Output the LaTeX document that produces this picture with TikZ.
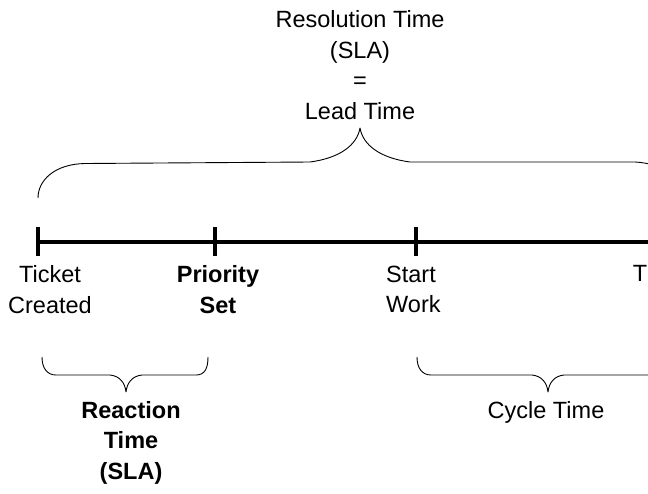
\documentclass[tikz,border=0pt]{standalone}
\usepackage{fontspec}
\setmainfont{Liberation Sans}
\begin{document}
\begin{tikzpicture}[x=1pt,y=-1pt,
  lbl/.style={inner sep=0pt, font=\fontsize{23.5}{30.5}\selectfont},
  lblb/.style={lbl, font=\fontsize{23.5}{30.5}\selectfont\bfseries},
  brace/.style={line width=0.9pt, line join=round},
  axis/.style={line width=3.8pt},
  tick/.style={line width=3.2pt}]
\useasboundingbox (0,0) rectangle (648,493);
\clip (0,0) rectangle (648,493);
\fill[white] (0,0) rectangle (648,493);

% timeline
\coordinate (t0) at (38,242);
\coordinate (tend) at (660,242);
\draw[axis] (t0) -- (tend);
\coordinate (k1a) at (38,227); \coordinate (k1b) at (38,256);
\coordinate (k2a) at (215,227); \coordinate (k2b) at (215,256);
\coordinate (k3a) at (416,227); \coordinate (k3b) at (416,256);
\draw[line width=4pt] (k1a) -- (k1b);
\draw[tick] (k2a) -- (k2b);
\draw[tick] (k3a) -- (k3b);

% top brace (lead time)
\draw[brace] (38,198) .. controls (38,180) and (55,164) .. (85,163.5)
  -- (310,162) .. controls (340,158) and (357,145) .. (360,128)
  .. controls (363,145) and (380,158) .. (410,162)
  -- (635,162) .. controls (665,163.5) and (682,180) .. (682,198);

% lower left brace (reaction time)
\draw[brace] (42,357) .. controls (42,368) and (47,375) .. (56,375)
  -- (110,375) .. controls (120,376) and (125,383) .. (126,392)
  .. controls (127,383) and (132,376) .. (142,375)
  -- (196,375) .. controls (205,375) and (208,368) .. (208,357);

% lower right brace (cycle time)
\draw[brace] (417,357) .. controls (417,368) and (422,375) .. (431,375)
  -- (532,375) .. controls (542,376) and (547,383) .. (548,392)
  .. controls (549,383) and (554,376) .. (564,375)
  -- (665,375) .. controls (674,375) and (679,368) .. (679,357);

% labels
\node[lbl, anchor=north, align=center] (lead) at (360,10.5)
  {Resolution Time\\(SLA)\\=\\Lead Time};
\node[lbl, anchor=north, align=center] (created) at (50,265.5)
  {Ticket\\Created};
\node[lblb, anchor=north, align=center] (prio) at (218,265.5)
  {Priority\\Set};
\node[lbl, anchor=north west, align=left] (start) at (386,265.5)
  {Start\\Work};
\node[lbl, anchor=north east] (tcut) at (647.5,265.5) {T};
\node[lblb, anchor=north, align=center] (react) at (131,401)
  {Reaction\\Time\\(SLA)};
\node[lbl, anchor=north] (cycle) at (546,401) {Cycle Time};
\end{tikzpicture}
\end{document}
